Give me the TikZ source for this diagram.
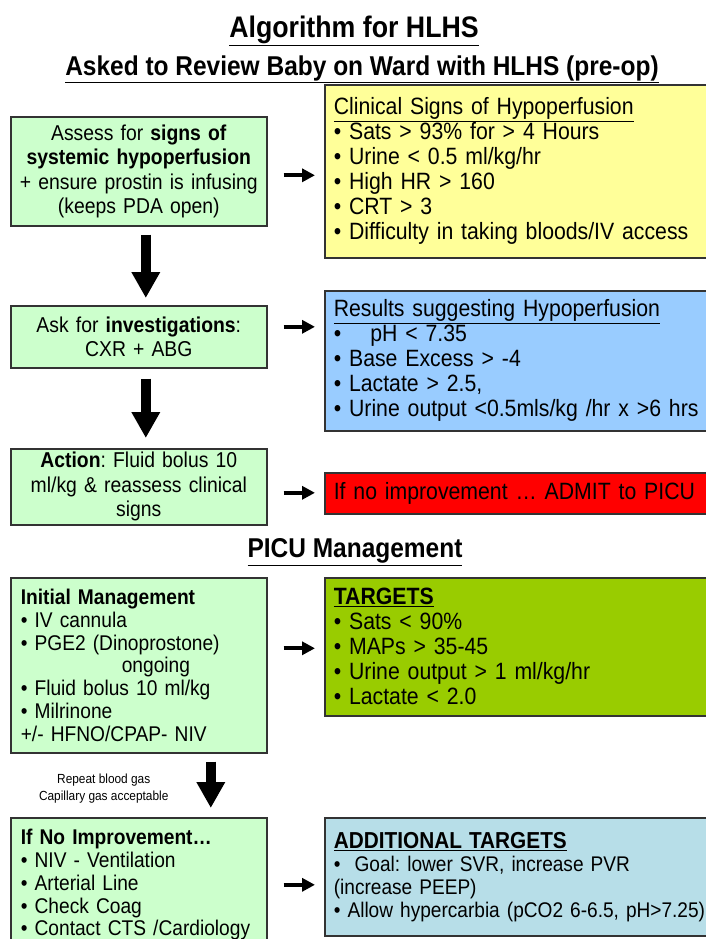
\documentclass[tikz,border=0pt]{standalone}
\usepackage{fontspec}
\setmainfont{Liberation Sans}[FakeStretch=0.9]
\usepackage{tikz}
\usetikzlibrary{arrows.meta,positioning}
\frenchspacing
\definecolor{stepgreen}{HTML}{CCFFCC}
\definecolor{signyellow}{HTML}{FFFF99}
\definecolor{resultblue}{HTML}{99CCFF}
\definecolor{admitred}{HTML}{FF0000}
\definecolor{targetgreen}{HTML}{99CC00}
\definecolor{extrablue}{HTML}{B7DEE8}
\definecolor{edgegray}{HTML}{333333}
\tikzset{
  stepbox/.style={draw=edgegray, line width=1.6pt, fill=stepgreen, anchor=north west, align=center, inner xsep=6pt, inner ysep=0pt, text width=244pt, font=\fontsize{21.5}{24.5}\selectfont},
  listbox/.style={stepbox, align=left, inner xsep=10pt, text width=236pt, font=\fontsize{21.3}{22.8}\selectfont},
  sidebox/.style={draw=edgegray, line width=1.6pt, anchor=north west, align=left, inner xsep=9pt, inner ysep=0pt, text width=400pt, font=\fontsize{23.6}{25}\selectfont},
  headline/.style={font=\bfseries\fontsize{27.2}{30}\selectfont},
  gasnote/.style={align=center, font=\fontsize{13.2}{17}\selectfont},
  downarrow/.style={-{Triangle[length=26pt,width=27pt]}, line width=10pt, draw=black},
  sidearrow/.style={-{Triangle[length=13pt,width=13pt]}, line width=4pt, draw=black}
}

\begin{document}
\begin{tikzpicture}[x=1pt, y=-1pt]
  \useasboundingbox (0,0) rectangle (706,939);
  \clip (0,0) rectangle (706,939);
  \fill[white] (0,0) rectangle (706,939);

  % headings
  \node[font=\bfseries\fontsize{29.7}{32}\selectfont] (title) at (354,31) {\underline{Algorithm for HLHS}};
  \node[headline] (ward) at (362,69) {\underline{Asked to Review Baby on Ward with HLHS (pre-op)}};
  \node[headline] (picu) at (355,552) {\underline{PICU Management}};

  % left column
  \node[stepbox, minimum height=109pt] (assess) at (10,116) {Assess for \textbf{signs of}\\\textbf{systemic hypoperfusion}\\+ ensure prostin is infusing\\(keeps PDA open)};
  \node[stepbox, minimum height=62pt] (invest) at (10,305) {Ask for \textbf{investigations}:\\CXR + ABG};
  \node[stepbox, minimum height=76pt] (action) at (10,448) {\textbf{Action}: Fluid bolus 10\\ml/kg \& reassess clinical\\signs};
  \node[listbox, minimum height=175pt] (initial) at (10,577) {\textbf{Initial Management}\\• IV cannula\\• PGE2 (Dinoprostone)\\\hspace*{101pt}ongoing\\• Fluid bolus 10 ml/kg\\• Milrinone\\+/- HFNO/CPAP- NIV};
  \node[listbox, minimum height=134pt] (noimprove) at (10,817) {\textbf{If No Improvement…}\\• NIV - Ventilation\\• Arterial Line\\• Check Coag\\• Contact CTS /Cardiology};

  % right column
  \node[sidebox, fill=signyellow, minimum height=173pt] (signs) at (324,84) {\underline{Clinical Signs of Hypoperfusion}\\• Sats > 93\% for > 4 Hours\\• Urine < 0.5 ml/kg/hr\\• High HR > 160\\• CRT > 3\\• Difficulty in taking bloods/IV access};
  \node[sidebox, fill=resultblue, minimum height=140pt] (results) at (324,290) {\underline{Results suggesting Hypoperfusion}\\•\hspace{0.9em} pH < 7.35\\• Base Excess > -4\\• Lactate > 2.5,\\• Urine output <0.5mls/kg /hr x >6 hrs};
  \node[sidebox, fill=admitred, minimum height=41pt] (admit) at (324,472) {If no improvement … ADMIT to PICU};
  \node[sidebox, fill=targetgreen, minimum height=138pt] (targets) at (324,577) {\textbf{\underline{TARGETS}}\\• Sats < 90\%\\• MAPs > 35-45\\• Urine output > 1 ml/kg/hr\\• Lactate < 2.0};
  \node[sidebox, fill=extrablue, minimum height=118pt, font=\fontsize{21.2}{23}\selectfont] (extra) at (324,817) {{\bfseries\fontsize{23.1}{24}\selectfont\underline{ADDITIONAL TARGETS}}\\•\ \ Goal: lower SVR, increase PVR\\(increase PEEP)\\• Allow hypercarbia (pCO2 6-6.5, pH>7.25)};

  % arrows down
  \draw[downarrow, shorten <=8pt, shorten >=7pt] ([xshift=7pt]assess.south) -- ([xshift=7pt]invest.north);
  \draw[downarrow, shorten <=10pt, shorten >=10pt] ([xshift=7pt]invest.south) -- ([xshift=7pt]action.north);
  \draw[downarrow, shorten <=8pt, shorten >=9pt] ([xshift=72pt]initial.south) -- node[gasnote, left=34pt, yshift=-3pt] (gas) {Repeat blood gas\\Capillary gas acceptable} ([xshift=72pt]noimprove.north);

  % arrows across
  \coordinate (r1) at ([yshift=-4pt]assess.east);
  \coordinate (r2) at ([yshift=10pt]invest.east);
  \coordinate (r3) at ([yshift=-6pt]action.east);
  \coordinate (r4) at ([yshift=17pt]initial.east);
  \coordinate (r5) at (noimprove.east);
  \draw[sidearrow, shorten <=16pt, shorten >=9pt] (r1) -- (r1 -| signs.west);
  \draw[sidearrow, shorten <=16pt, shorten >=9pt] (r2) -- (r2 -| results.west);
  \draw[sidearrow, shorten <=16pt, shorten >=9pt] (r3) -- (r3 -| admit.west);
  \draw[sidearrow, shorten <=16pt, shorten >=9pt] (r4) -- (r4 -| targets.west);
  \draw[sidearrow, shorten <=16pt, shorten >=9pt] (r5) -- (r5 -| extra.west);
\end{tikzpicture}
\end{document}
